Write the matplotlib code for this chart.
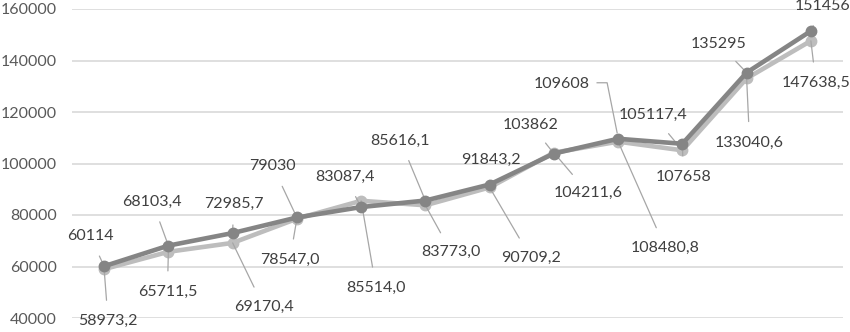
import matplotlib
matplotlib.use("Agg")
import matplotlib.pyplot as plt
from matplotlib.lines import Line2D

categories = list(range(1, 13))
series_dark = [60114, 68103.4, 72985.7, 79030, 83087.4, 85616.1, 91843.2,
               103862, 109608, 107658, 135295, 151456]
series_light = [58973.2, 65711.5, 69170.4, 78547.0, 85514.0, 83773.0, 90709.2,
                104211.6, 108480.8, 105117.4, 133040.6, 147638.5]
labels_dark = ["60114", "68103,4", "72985,7", "79030", "83087,4", "85616,1",
               "91843,2", "103862", "109608", "107658", "135295", "151456"]
labels_light = ["58973,2", "65711,5", "69170,4", "78547,0", "85514,0", "83773,0",
                "90709,2", "104211,6", "108480,8", "105117,4", "133040,6", "147638,5"]
y_ticks = [40000, 60000, 80000, 100000, 120000, 140000, 160000]

# label offsets in pixels (text centre relative to point); None arrow = custom leader
off_dark = [(-14, 30), (-16, 44), (1, 29), (-24, 51), (-16, 30), (-25, 60),
            (1, 25), (-23, 29), (-56, 55), (1, -33), (-28, 29), (12, 25)]
off_light = [(4, -52), (-1, -40), (31, -64), (-7, -41), (15, -87), (26, -47),
             (41, -70), (34, -40), (47, -106), (-29, 35), (3, -64), (5, -42)]

FONT = ["Lato", "DejaVu Sans"]
plt.rcParams["font.family"] = FONT

fig = plt.figure(figsize=(8.5, 3.32), dpi=100)
ax = fig.add_axes([72 / 850, 14 / 332, 771 / 850, 309 / 332])

x = list(range(len(categories)))
c_dark = "#858585"
c_light = "#bdbdbd"
ax.plot(x, series_light, color=c_light, lw=3.3, marker="o", ms=7.5,
        mfc=c_light, mec=c_light, zorder=3)
ax.plot(x, series_dark, color=c_dark, lw=3.3, marker="o", ms=7.5,
        mfc=c_dark, mec=c_dark, zorder=4)

ax.set_xlim(-0.5, len(categories) - 0.5)
ax.set_ylim(40000, 160000)
ax.set_yticks(y_ticks)
ax.set_yticklabels([str(v) for v in y_ticks])
ax.set_xticks([])
ax.tick_params(axis="y", length=0, pad=11, labelsize=11.5, labelcolor="#595959")
ax.yaxis.grid(True, color="#d9d9d9", lw=1.2)
ax.set_axisbelow(True)
for s in ax.spines.values():
    s.set_visible(False)

LEAD = "#a6a6a6"
custom = {("d", 8)}

def put(vals, labs, offs, key):
    for i, (v, t, o) in enumerate(zip(vals, labs, offs)):
        if (key, i) in custom:
            ax.annotate(t, xy=(i, v), xytext=o, textcoords="offset pixels",
                        ha="center", va="center", fontsize=11.5, color="#404040",
                        annotation_clip=False)
            px, py = ax.transData.transform((i, v))
            line = Line2D([px + o[0] + 35, px + o[0] + 45, px - 1],
                          [py + o[1] + 1, py + o[1] + 1, py + 6],
                          transform=None, color=LEAD, lw=0.9, zorder=2)
            fig.add_artist(line)
        else:
            ax.annotate(t, xy=(i, v), xytext=o, textcoords="offset pixels",
                        ha="center", va="center", fontsize=11.5, color="#404040",
                        annotation_clip=False,
                        arrowprops=dict(arrowstyle="-", color=LEAD, lw=0.9,
                                        shrinkA=8, shrinkB=0))

put(series_dark, labels_dark, off_dark, "d")
put(series_light, labels_light, off_light, "l")

fig.savefig("out.png", dpi=100)
